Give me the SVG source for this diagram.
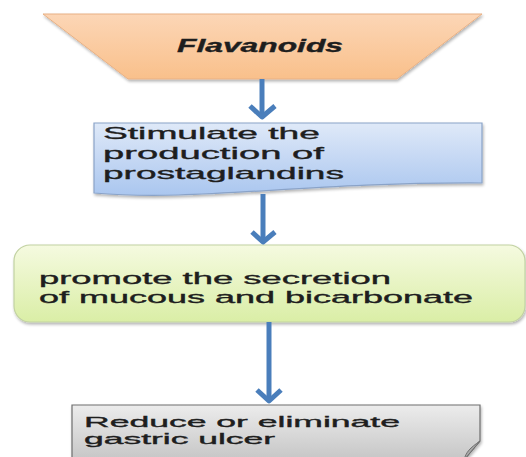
<svg xmlns="http://www.w3.org/2000/svg" width="526" height="457" viewBox="0 0 526 457">
  <style>
    .lbl { font-family: "Liberation Sans", Arial, sans-serif; fill: #1e1e1e; stroke: #1e1e1e; stroke-width: 0.35; }
    .conn { fill: none; stroke: #4a7ebb; stroke-width: 5; stroke-linecap: butt; stroke-linejoin: round; }
  </style>
  <defs>
    <linearGradient id="gOrange" x1="0" y1="0" x2="0" y2="1">
      <stop offset="0" stop-color="#fcd6b6"/>
      <stop offset="1" stop-color="#f9c08b"/>
    </linearGradient>
    <linearGradient id="gBlue" x1="0" y1="0" x2="0" y2="1">
      <stop offset="0" stop-color="#dfe9f8"/>
      <stop offset="1" stop-color="#aac6ef"/>
    </linearGradient>
    <linearGradient id="gGreen" x1="0" y1="0" x2="0" y2="1">
      <stop offset="0" stop-color="#f5fae0"/>
      <stop offset="1" stop-color="#daeea6"/>
    </linearGradient>
    <linearGradient id="gGray" x1="0" y1="0" x2="0" y2="1">
      <stop offset="0" stop-color="#ececec"/>
      <stop offset="1" stop-color="#c6c6c6"/>
    </linearGradient>
    <filter id="shadow" x="-5%" y="-10%" width="110%" height="130%">
      <feGaussianBlur in="SourceAlpha" stdDeviation="1.5"/>
      <feOffset dx="1" dy="2" result="b"/>
      <feComponentTransfer><feFuncA type="linear" slope="0.3"/></feComponentTransfer>
      <feMerge><feMergeNode/><feMergeNode in="SourceGraphic"/></feMerge>
    </filter>
  </defs>

  <g id="flavanoids">
    <polygon points="43,14 482,14 397,79 128,79" fill="url(#gOrange)" stroke="#e8b084" stroke-width="1" filter="url(#shadow)"/>
    <text class="lbl" x="177" y="52" font-size="18" font-weight="bold" font-style="italic" textLength="166" lengthAdjust="spacingAndGlyphs">Flavanoids</text>
  </g>

  <g id="prostaglandins">
    <path d="M94,123 H482 V183 C300,182 200,202 94,193 Z" fill="url(#gBlue)" stroke="#8aa3c8" stroke-width="1.2" filter="url(#shadow)"/>
    <text class="lbl" font-size="17">
      <tspan x="103" y="139" textLength="217" lengthAdjust="spacingAndGlyphs">Stimulate the</tspan>
      <tspan x="103" y="159" textLength="221" lengthAdjust="spacingAndGlyphs">production of</tspan>
      <tspan x="103" y="179" textLength="241" lengthAdjust="spacingAndGlyphs">prostaglandins</tspan>
    </text>
  </g>

  <g id="secretion">
    <rect x="14" y="245" width="511" height="77" rx="16" ry="16" fill="url(#gGreen)" stroke="#c2d2a2" stroke-width="1.2" filter="url(#shadow)"/>
    <text class="lbl" font-size="16.3">
      <tspan x="39" y="284" textLength="352" lengthAdjust="spacingAndGlyphs">promote the secretion</tspan>
      <tspan x="39" y="303" textLength="434" lengthAdjust="spacingAndGlyphs">of mucous and bicarbonate</tspan>
    </text>
  </g>

  <g id="ulcer">
    <path d="M72,405 H480 V441 L464,460 H72 Z" fill="url(#gGray)" stroke="#6e6e6e" stroke-width="1.2" filter="url(#shadow)"/>
    <path d="M480,441 L464,460 C466,452 470,448 480,441 Z" fill="#a9a9a9" stroke="#6e6e6e" stroke-width="1"/>
    <text class="lbl" font-size="14.8">
      <tspan x="84" y="427" textLength="316" lengthAdjust="spacingAndGlyphs">Reduce or eliminate</tspan>
      <tspan x="84" y="444" textLength="191" lengthAdjust="spacingAndGlyphs">gastric ulcer</tspan>
    </text>
  </g>

  <g id="connectors">
    <path class="conn" d="M262,79 V116"/>
    <path class="conn" d="M250,106 L262,117 L275,106"/>
    <path class="conn" d="M263,194 V241"/>
    <path class="conn" d="M252,232 L263,242 L275,232"/>
    <path class="conn" d="M269,322 V400"/>
    <path class="conn" d="M257,390 L269,401 L281,390"/>
  </g>
</svg>
